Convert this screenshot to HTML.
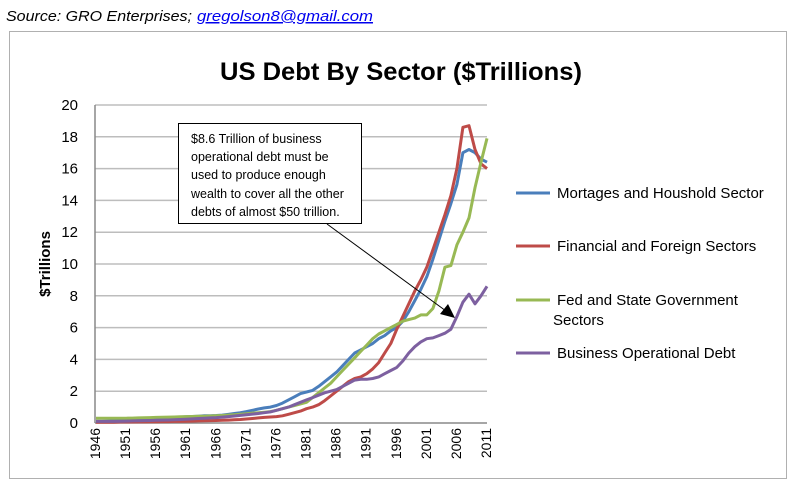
<!DOCTYPE html>
<html><head><meta charset="utf-8"><style>
body{margin:0;background:#fff;width:799px;height:489px;overflow:hidden;font-family:"Liberation Sans",sans-serif}
</style></head><body>
<svg width="799" height="489" xmlns="http://www.w3.org/2000/svg">
<text x="6" y="21" font-size="15" font-style="italic" fill="#000" textLength="186" lengthAdjust="spacingAndGlyphs">Source: GRO Enterprises;</text>
<text x="197" y="21" font-size="15" font-style="italic" fill="#0000ee" text-decoration="underline" textLength="176" lengthAdjust="spacingAndGlyphs">gregolson8@gmail.com</text>
<rect x="9.5" y="31.5" width="777" height="447" fill="#fff" stroke="#b0b0b0"/>
<text x="401" y="80" font-size="25" font-weight="bold" text-anchor="middle" textLength="362" lengthAdjust="spacingAndGlyphs">US Debt By Sector ($Trillions)</text>
<text transform="translate(50,264) rotate(-90)" font-size="15" font-weight="bold" text-anchor="middle">$Trillions</text>
<g id="grid"></g><g id="yt"></g><g id="xt"></g><g id="series"></g>
<g>
<rect x="178.5" y="123.5" width="183" height="100" fill="#fff" stroke="#000"/>
<g font-size="12.5" fill="#000">
<text x="191" y="143">$8.6 Trillion of business</text>
<text x="191" y="161">operational debt must be</text>
<text x="191" y="179">used to produce enough</text>
<text x="191" y="198">wealth to cover all the other</text>
<text x="191" y="216">debts of almost $50 trillion.</text>
</g>
<line x1="327" y1="224" x2="446" y2="311" stroke="#000" stroke-width="1"/>
<polygon points="455,318 440,314 448,304" fill="#000"/>
</g>
<g id="legend" font-size="15"></g>
</svg>
<script>
const years=[];for(let y=1946;y<=2011;y++)years.push(y);
const tickYears=[1946,1951,1956,1961,1966,1971,1976,1981,1986,1991,1996,2001,2006,2011];
const yTicks=[0,2,4,6,8,10,12,14,16,18,20];
const seriesNames=["Mortages and Houshold Sector","Financial and Foreign Sectors","Fed and State Government Sectors","Business Operational Debt"];
const mortgage=[0.1,0.1,0.12,0.13,0.15,0.17,0.19,0.21,0.23,0.26,
0.28,0.3,0.32,0.35,0.37,0.39,0.41,0.43,0.45,0.46,
0.47,0.5,0.55,0.6,0.65,0.72,0.8,0.88,0.95,1.0,
1.1,1.25,1.45,1.65,1.85,1.95,2.05,2.3,2.6,2.9,
3.2,3.6,4.0,4.4,4.6,4.8,5.0,5.3,5.5,5.8,
6.0,6.4,7.0,7.7,8.4,9.2,10.3,11.5,12.7,13.8,
15.0,17.0,17.2,17.0,16.6,16.4];
const financial=[0.05,0.05,0.05,0.05,0.06,0.06,0.06,0.07,0.07,0.08,
0.08,0.09,0.09,0.1,0.1,0.11,0.12,0.13,0.14,0.15,
0.16,0.17,0.18,0.2,0.22,0.25,0.28,0.32,0.35,0.38,
0.4,0.45,0.55,0.65,0.75,0.9,1.0,1.15,1.4,1.7,
2.0,2.3,2.6,2.8,2.9,3.1,3.4,3.8,4.4,5.0,
5.9,6.7,7.5,8.3,9.0,9.8,10.9,12.0,13.1,14.3,
16.0,18.6,18.7,17.2,16.3,16.0];
const government=[0.3,0.3,0.3,0.3,0.3,0.3,0.31,0.32,0.33,0.34,
0.35,0.36,0.37,0.38,0.39,0.4,0.41,0.42,0.43,0.44,
0.45,0.47,0.5,0.52,0.55,0.58,0.62,0.65,0.68,0.72,
0.8,0.9,1.0,1.1,1.2,1.3,1.6,1.9,2.2,2.5,
2.9,3.3,3.7,4.1,4.5,4.9,5.3,5.6,5.8,6.0,
6.2,6.4,6.5,6.6,6.8,6.8,7.2,8.3,9.8,9.9,
11.2,12.0,12.9,14.8,16.4,17.9];
const business=[0.1,0.1,0.1,0.1,0.11,0.12,0.13,0.14,0.15,0.16,
0.17,0.18,0.19,0.2,0.22,0.24,0.26,0.28,0.3,0.32,
0.34,0.37,0.4,0.44,0.48,0.52,0.56,0.6,0.65,0.7,
0.8,0.9,1.0,1.15,1.3,1.45,1.6,1.75,1.9,2.0,
2.1,2.3,2.5,2.7,2.75,2.75,2.8,2.9,3.1,3.3,
3.5,3.9,4.4,4.8,5.1,5.3,5.35,5.5,5.65,5.9,
6.7,7.6,8.1,7.5,8.0,8.6];
const seriesData=[mortgage,financial,government,business];
const colors=["#4a7ebb","#be4b48","#98b954","#7d60a0"];
const x0=96,x1=487,yB=423,yT=105;
const X=i=>x0+(x1-x0)*i/(years.length-1);
const Y=v=>yB-(yB-yT)*v/20;
const NS="http://www.w3.org/2000/svg";
function mk(t,a,p){const e=document.createElementNS(NS,t);for(const k in a)e.setAttribute(k,a[k]);p.appendChild(e);return e;}
const grid=document.getElementById('grid'),yt=document.getElementById('yt'),xt=document.getElementById('xt'),sg=document.getElementById('series'),lg=document.getElementById('legend');
yTicks.forEach(v=>{
 const l=mk('line',{x1:x0-1,x2:x1,y1:Y(v),y2:Y(v),stroke:v===0?'#888':'#bdbdbd','stroke-width':1.5},grid);
 
 
 const t=mk('text',{x:78,y:Y(v)+5,'font-size':15,'text-anchor':'end'},yt);t.textContent=v;
 
 
});
const ax=mk('line',{x1:x0-1,x2:x0-1,y1:yT,y2:yB,stroke:'#888','stroke-width':1.5},grid);


tickYears.forEach(yr=>{
 const i=years.indexOf(yr);const cx=X(i)+4;
 const t=mk('text',{transform:`translate(${cx},${yB+5}) rotate(-90)`,'font-size':14,'text-anchor':'end'},xt);t.textContent=yr;
 
 
});
seriesData.forEach((d,s)=>{
 const p=mk('polyline',{points:d.map((v,i)=>X(i).toFixed(1)+','+Y(v).toFixed(1)).join(' '),fill:'none',stroke:colors[s],'stroke-width':3,'stroke-linejoin':'round'},sg);
 
 
});
const ly=[193,246,300,353];
seriesNames.forEach((n,s)=>{
 const l=mk('line',{x1:516,x2:550,y1:ly[s],y2:ly[s],stroke:colors[s],'stroke-width':3},lg);
 
 
 const t=mk('text',{x:557,y:ly[s]+5},lg);
 
 
 if(s===2){t.textContent='Fed and State Government';const t2=mk('text',{x:553,y:ly[s]+25},lg);t2.textContent='Sectors';
  
  }
 else t.textContent=n;
});
</script>
</body></html>
